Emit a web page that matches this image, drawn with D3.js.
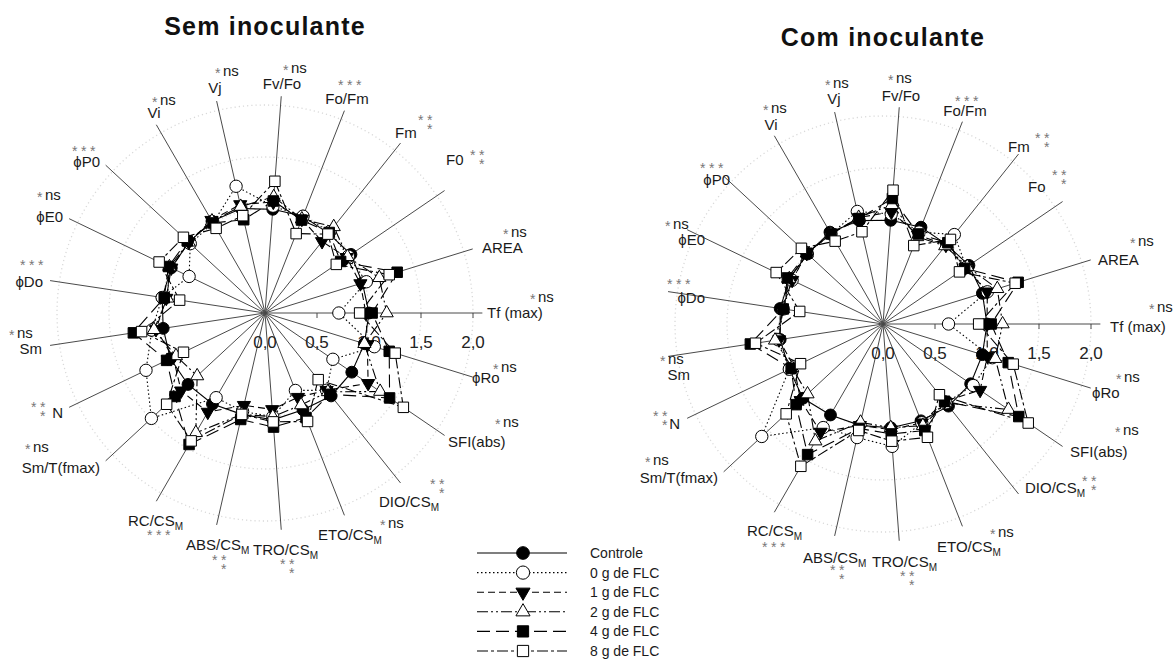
<!DOCTYPE html>
<html>
<head>
<meta charset="utf-8">
<script src="https://cdn.jsdelivr.net/npm/d3@7"></script>
<style>
body { margin: 0; background: #fff; }
svg text { font-family: Arial, "Liberation Sans", "DejaVu Sans", sans-serif; }
</style>
</head>
<body>
<div id="chart"></div>
<script>
// ---- data ----
const axesSem = ["Fv/Fo","Fo/Fm","Fm","F0","AREA","Tf (max)","ϕRo","SFI(abs)","DIO/CS_M","ETO/CS_M",
  "TRO/CS_M","ABS/CS_M","RC/CS_M","Sm/T(fmax)","N","Sm","ϕDo","ϕE0","ϕP0","Vi","Vj"];
const axesCom = ["Fv/Fo","Fo/Fm","Fm","Fo","AREA","Tf (max)","ϕRo","SFI(abs)","DIO/CS_M","ETO/CS_M",
  "TRO/CS_M","ABS/CS_M","RC/CS_M","Sm/T(fmax)","N","Sm","ϕDo","ϕE0","ϕP0","Vi","Vj"];
const sigCodes = ["*ns","***","**|*","**|*","*ns","*ns","*ns","*ns","**|*","*ns",
  "**|*","**|*","***","*ns","**|*","*ns","***","*ns","***","*ns","*ns"];
const seriesNames = ["Controle","0 g de FLC","1 g de FLC","2 g de FLC","4 g de FLC","8 g de FLC"];
const tickValues = [0, 0.5, 1, 1.5, 2];
const tickLabels = ["0,0","0,5","1,0","1,5","2,0"];
const gridValues = [1, 1.5, 2];
const titles = ["Sem inoculante","Com inoculante"];

const semControle = [1.00,1.00,0.98,1.00,0.98,1.00,1.00,1.01,1.02,1.00,1.03,1.00,1.01,1.01,1.01,0.99,1.00,1.00,1.00,1.02,1.03];
const semFLC0     = [1.03,1.00,1.00,0.97,1.02,0.71,1.10,0.79,0.95,0.80,1.00,0.97,0.94,1.49,1.27,1.10,1.00,0.81,0.98,1.00,1.25];
const semFLC1     = [1.07,0.97,0.88,0.95,0.96,0.97,1.03,1.20,0.95,0.87,0.93,0.91,1.10,1.10,0.98,1.06,0.96,1.00,1.00,1.03,1.07];
const semFLC2     = [1.12,0.97,1.06,0.96,1.15,1.17,1.00,1.34,0.97,0.95,1.00,1.00,1.33,0.89,0.95,1.08,0.95,1.02,1.00,1.02,1.05];
const semFLC4     = [1.08,0.96,0.99,0.88,1.33,1.03,1.25,1.45,1.00,1.08,1.10,1.05,1.46,1.18,1.05,1.28,0.98,1.03,1.02,1.00,0.92];
const semFLC8     = [1.27,0.82,0.97,0.83,1.25,0.91,1.31,1.61,0.82,1.12,1.05,1.00,1.42,1.29,0.87,1.20,0.83,1.13,1.07,0.94,0.96];

const comControle = [1.00,1.00,0.98,1.00,1.00,1.00,1.00,1.02,1.01,1.00,1.00,1.00,1.01,1.05,1.00,1.00,1.00,1.00,0.99,1.02,1.02];
const comFLC0     = [1.06,0.95,1.10,0.97,1.05,0.63,1.10,1.05,0.97,1.02,1.18,1.12,1.15,1.59,1.00,1.02,0.97,0.97,1.00,1.00,1.11];
const comFLC1     = [1.08,0.92,0.97,0.96,1.05,1.00,1.05,1.13,0.95,1.02,1.02,1.00,1.20,1.08,0.95,1.01,0.98,0.97,1.00,1.00,1.05];
const comFLC2     = [1.15,0.90,0.96,0.98,1.15,1.15,1.13,1.46,0.97,1.05,1.00,0.97,1.30,0.99,0.97,1.05,0.97,1.00,1.00,1.00,1.05];
const comFLC4     = [1.21,0.93,1.00,0.95,1.36,1.04,1.26,1.58,0.95,1.10,1.06,1.03,1.45,1.14,0.98,1.29,0.97,1.02,1.00,1.00,1.04];
const comFLC8     = [1.29,0.81,1.04,0.89,1.33,0.92,1.31,1.69,0.87,1.17,1.13,1.05,1.58,1.27,0.88,1.24,0.81,1.14,1.07,0.92,0.91];

// ---- layout (text positions relative to each chart centre) ----
// label: [dx, dy(baseline), anchor]   sig: [dx(left), dy(row centre)]
const labelPosSem = [[17,-224,"middle"],[82,-209,"middle"],[130,-175,"start"],[181,-148,"start"],[217,-60,"start"],
  [222,5,"start"],[207,70,"start"],[183,134,"start"],[114,194,"start"],[53,227,"start"],[-12,242,"start"],
  [-79,237,"start"],[-137,213,"start"],[-165,160,"end"],[-202,105,"end"],[-223,41,"end"],[-222,-26,"end"],
  [-202,-91,"end"],[-165,-146,"end"],[-111,-195,"middle"],[-50,-220,"middle"]];
const sigPosSem = [[18,-246],[73,-231],[153,-196],[205,-161],[238,-82],[265,-17],[228,53],[230,108],[165,168],
  [115,209],[15,248],[-53,244],[-118,219],[-240,133],[-234,91],[-256,19],[-245,-51],[-228,-119],[-193,-165],
  [-113,-214],[-50,-243]];
const labelPosCom = [[18,-223,"middle"],[82,-208,"middle"],[125,-172,"start"],[145,-132,"start"],[215,-59,"start"],
  [227,8,"start"],[209,74,"start"],[187,133,"start"],[142,169,"start"],[54,228,"start"],[-11,243,"start"],
  [-80,239,"start"],[-136,212,"start"],[-165,159,"end"],[-203,105,"end"],[-193,56,"end"],[-178,-21,"end"],
  [-178,-79,"end"],[-153,-139,"end"],[-112,-194,"middle"],[-49,-220,"middle"]];
const sigPosCom = [[5,-247],[72,-226],[152,-189],[169,-152],[247,-84],[266,-18],[233,52],[232,105],[199,154],
  [107,207],[17,249],[-53,243],[-121,220],[-238,135],[-230,89],[-223,34],[-216,-43],[-218,-101],[-183,-159],
  [-120,-217],[-58,-242]];

const seriesStyle = [
  {dash: null,            sym: d3.symbolCircle,   size: 110, fill: "#000", rot: 0},
  {dash: "1.5,2.5",       sym: d3.symbolCircle,   size: 120, fill: "#fff", rot: 0},
  {dash: "7,4",           sym: d3.symbolTriangle, size: 75,  fill: "#000", rot: 180},
  {dash: "11,3,2,3,2,3",  sym: d3.symbolTriangle, size: 75,  fill: "#fff", rot: 0},
  {dash: "13,6",          sym: d3.symbolSquare,   size: 110, fill: "#000", rot: 0},
  {dash: "11,3,3,3",      sym: d3.symbolSquare,   size: 110, fill: "#fff", rot: 0}
];

const width = 1175, height = 663;
const svg = d3.select("#chart").append("svg")
  .attr("width", width).attr("height", height)
  .style("background", "#fff");

const r = d3.scaleLinear().domain([0, 2]).range([0, 208]);

function drawRadar(cx, cy, title, titleY, axes, series, labelPos, sigPos) {
  const g = svg.append("g").attr("transform", `translate(${cx},${cy})`);
  const band = d3.scaleBand().domain(d3.range(axes.length)).range([0, 2 * Math.PI]);
  const ang = i => band(i) + band.step() * 0.25;

  svg.append("text").attr("x", cx).attr("y", titleY)
    .attr("text-anchor", "middle").attr("font-size", 25).attr("font-weight", "bold")
    .attr("letter-spacing", 1.2).attr("fill", "#111").text(title);

  // dotted grid circles
  g.selectAll(".grid").data(gridValues).enter().append("circle")
    .attr("r", d => r(d)).attr("fill", "none")
    .attr("stroke", "#d9d9d9").attr("stroke-width", 1.3).attr("stroke-dasharray", "1.2,3");

  // spokes
  g.selectAll(".spoke").data(axes).enter().append("line")
    .attr("x1", 0).attr("y1", 0)
    .attr("x2", (d, i) => d3.pointRadial(ang(i), r(2.09))[0])
    .attr("y2", (d, i) => d3.pointRadial(ang(i), r(2.09))[1])
    .attr("stroke", "#4a4a4a").attr("stroke-width", 1);

  // ticks along Tf (max) axis
  const ti = axes.indexOf("Tf (max)");
  g.selectAll(".tick").data(tickValues.slice(1)).enter().append("line")
    .attr("x1", d => d3.pointRadial(ang(ti), r(d))[0]).attr("x2", d => d3.pointRadial(ang(ti), r(d))[0])
    .attr("y1", 0).attr("y2", 5).attr("stroke", "#4a4a4a");
  g.selectAll(".ticklab").data(tickValues).enter().append("text")
    .attr("x", d => d3.pointRadial(ang(ti), r(d))[0]).attr("y", 35)
    .attr("text-anchor", "middle").attr("font-size", 17).attr("fill", "#222")
    .text((d, i) => tickLabels[i]);

  // series lines
  const line = d3.lineRadial().angle((d, i) => ang(i)).radius(d => r(d)).curve(d3.curveLinearClosed);
  series.forEach((vals, s) => {
    g.append("path").attr("d", line(vals)).attr("fill", "none")
      .attr("stroke", "#000").attr("stroke-width", 1.1)
      .attr("stroke-dasharray", seriesStyle[s].dash);
  });
  // markers
  series.forEach((vals, s) => {
    const st = seriesStyle[s];
    g.selectAll(".m" + s).data(vals).enter().append("path")
      .attr("d", d3.symbol(st.sym, st.size)())
      .attr("transform", (d, i) => {
        const p = d3.pointRadial(ang(i), r(d));
        return `translate(${p[0]},${p[1]}) rotate(${st.rot})`;
      })
      .attr("fill", st.fill).attr("stroke", "#000").attr("stroke-width", 1);
  });

  // labels
  axes.forEach((name, i) => {
    const [dx, dy, anchor] = labelPos[i];
    const t = g.append("text").attr("x", dx).attr("y", dy).attr("text-anchor", anchor)
      .attr("font-size", 15).attr("fill", "#1a1a1a");
    const parts = name.split("_");
    t.append("tspan").text(parts[0]);
    if (parts[1]) t.append("tspan").attr("font-size", 10).attr("dy", 4).text(parts[1]);

    // significance marks, one text element each
    const [sx, sy] = sigPos[i];
    const code = sigCodes[i];
    const s = g.append("text").attr("font-size", 14).attr("fill", "#777");
    if (code === "*ns") {
      s.attr("x", sx).attr("y", sy + 5.5);
      s.append("tspan").attr("dy", 2.5).text("*");
      s.append("tspan").attr("dy", -2.5).attr("dx", 2.5).attr("font-size", 15)
        .attr("fill", "#1a1a1a").text("ns");
    } else if (code === "***") {
      s.attr("y", sy + 8).attr("x", [sx, sx + 9, sx + 18].join(" ")).text("***");
    } else {
      s.attr("y", sy + 8);
      s.append("tspan").attr("x", [sx, sx + 9].join(" ")).text("**");
      s.append("tspan").attr("x", sx + 9).attr("dy", 9).text("*");
    }
  });
}

drawRadar(265, 313, titles[0], 35, axesSem,
  [semControle, semFLC0, semFLC1, semFLC2, semFLC4, semFLC8], labelPosSem, sigPosSem);
drawRadar(883, 324, titles[1], 46, axesCom,
  [comControle, comFLC0, comFLC1, comFLC2, comFLC4, comFLC8], labelPosCom, sigPosCom);

// legend
const legY = d3.scalePoint().domain(seriesNames).range([553, 651]);
const leg = svg.append("g");
seriesNames.forEach((name, s) => {
  const st = seriesStyle[s];
  const y = legY(name);
  leg.append("line").attr("x1", 477).attr("x2", 567).attr("y1", y).attr("y2", y)
    .attr("stroke", "#000").attr("stroke-width", 1.1).attr("stroke-dasharray", st.dash);
  leg.append("path").attr("d", d3.symbol(st.sym, st.size * 1.15)())
    .attr("transform", `translate(523,${y}) rotate(${st.rot})`)
    .attr("fill", st.fill).attr("stroke", "#000");
  leg.append("text").attr("x", 590).attr("y", y + 5).attr("font-size", 14)
    .attr("fill", "#1a1a1a").text(name);
});
</script>
</body>
</html>
